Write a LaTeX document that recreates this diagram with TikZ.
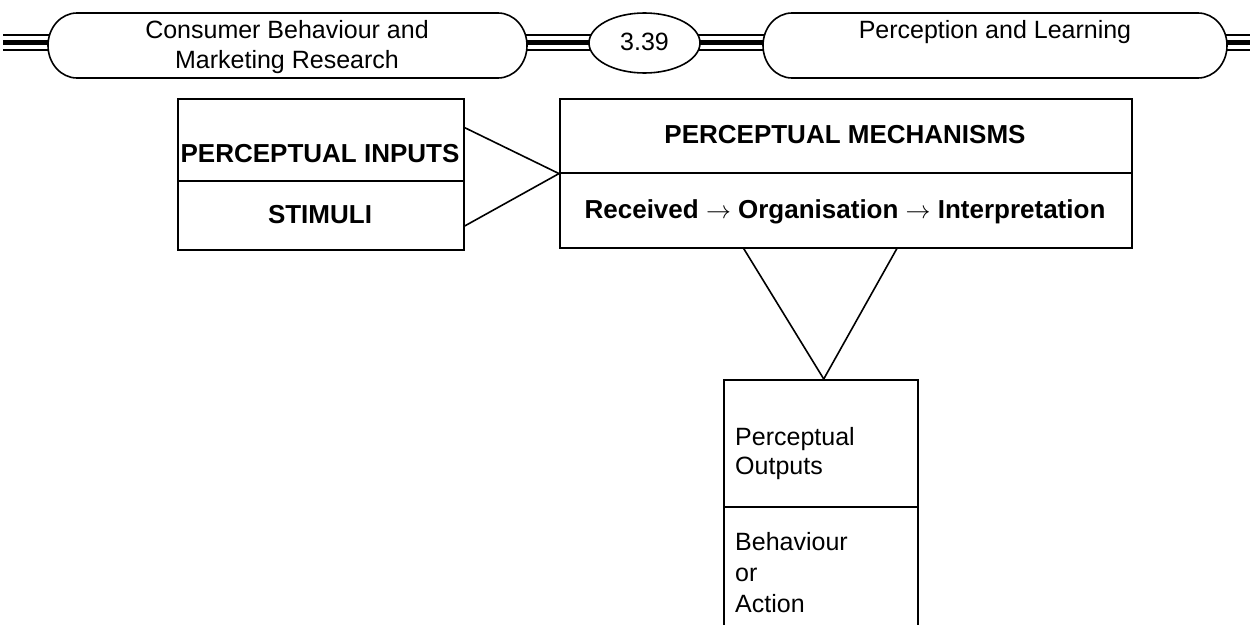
\documentclass[tikz,border=0pt]{standalone}
\usepackage{fontspec}
\setmainfont{Liberation Sans}
\usetikzlibrary{calc,shapes.geometric}

\tikzset{
  frame/.style={draw, rectangle, line width=1.6pt, inner sep=0pt, anchor=north west},
  rtxt/.style={font=\fontsize{25}{30}\selectfont, inner sep=0pt, anchor=base},
  ltxt/.style={font=\fontsize{25}{30}\selectfont, inner sep=0pt, anchor=base west},
  btxt/.style={font=\fontsize{26}{30}\selectfont\bfseries, inner sep=0pt, anchor=base},
  link/.style={line width=1.6pt},
  rail/.style={line width=1.3pt},
  railthick/.style={line width=5pt},
  pillshape/.style={line width=1.6pt, fill=white}
}

\begin{document}
\begin{tikzpicture}[x=1pt,y=-1pt]
\useasboundingbox (0,0) rectangle (1250,624);

% ---- running header: rails, pills and page number ----
\foreach \a/\b in {3/52, 522/594, 695/768, 1222/1250} {
  \draw[rail] (\a,35) -- (\b,35);
  \draw[railthick] (\a,42) -- (\b,42);
  \draw[rail] (\a,50) -- (\b,50);
}
\draw[pillshape] (77,13) -- (498,13)
  arc[start angle=90, end angle=-90, x radius=29pt, y radius=32.5pt]
  -- (77,78)
  arc[start angle=270, end angle=90, x radius=29pt, y radius=32.5pt] -- cycle;
\draw[pillshape] (792,13) -- (1198,13)
  arc[start angle=90, end angle=-90, x radius=29pt, y radius=32.5pt]
  -- (792,78)
  arc[start angle=270, end angle=90, x radius=29pt, y radius=32.5pt] -- cycle;
\node[ellipse, draw, line width=1.6pt, fill=white, inner sep=0pt,
      minimum width=111pt, minimum height=60pt] (page) at (644.5,43) {};

\node[rtxt] (hdA) at (287,38) {Consumer Behaviour and};
\node[rtxt] (hdB) at (287,68) {Marketing Research};
\node[rtxt] (hdP) at (644.5,50) {3.39};
\node[rtxt] (hdC) at (995,38) {Perception and Learning};

% ---- perceptual inputs ----
\node[frame, minimum width=286pt, minimum height=82pt] (inTop) at (177,98) {};
\node[frame, minimum width=286pt, minimum height=69pt] (inBot) at (177,180) {};
\node[btxt] (tInputs) at (320,162) {PERCEPTUAL INPUTS};
\node[btxt] (tStimuli) at (320,223) {STIMULI};

% ---- perceptual mechanisms ----
\node[frame, minimum width=572pt, minimum height=74pt] (mechTop) at (559,98) {};
\node[frame, minimum width=572pt, minimum height=75pt] (mechBot) at (559,172) {};
\node[btxt] (tMech) at (845,143) {PERCEPTUAL MECHANISMS};
\node[btxt] (tFlow) at (845,218) {Received \(\rightarrow\) Organisation \(\rightarrow\) Interpretation};

% ---- perceptual outputs ----
\node[frame, minimum width=194pt, minimum height=127pt] (outTop) at (723,379) {};
\node[frame, minimum width=194pt, minimum height=124pt] (outBot) at (723,506) {};
\node[ltxt] (tPer) at (735,445) {Perceptual};
\node[ltxt] (tOut) at (735,474) {Outputs};
\node[ltxt] (tBeh) at (735,550) {Behaviour};
\node[ltxt] (tOr) at (735,581) {or};
\node[ltxt] (tAct) at (735,612) {Action};

% ---- funnels between the stages ----
\coordinate (inApex) at (mechTop.south west);
\draw[link] ($(inTop.north east)!0.354!(inTop.south east)$) -- (inApex);
\draw[link] ($(inBot.north east)!0.652!(inBot.south east)$) -- (inApex);
\coordinate (outApex) at ($(outTop.north west)!0.515!(outTop.north east)$);
\draw[link] ($(mechBot.south west)!0.322!(mechBot.south east)$) -- (outApex);
\draw[link] ($(mechBot.south west)!0.589!(mechBot.south east)$) -- (outApex);
\end{tikzpicture}
\end{document}
